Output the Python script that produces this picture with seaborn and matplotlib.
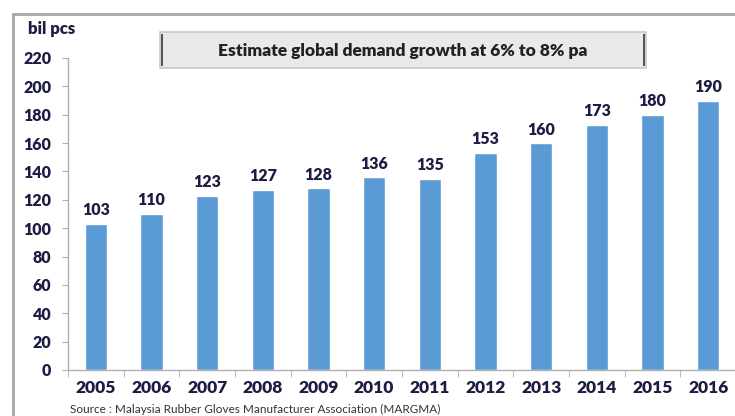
import pandas as pd
import seaborn as sns
import matplotlib.pyplot as plt
from matplotlib.patches import Rectangle

# data
years = ['2005', '2006', '2007', '2008', '2009', '2010',
         '2011', '2012', '2013', '2014', '2015', '2016']
demand = [103, 110, 123, 127, 128, 136, 135, 153, 160, 173, 180, 190]
y_ticks = list(range(0, 221, 20))

df = pd.DataFrame({'year': years, 'demand': demand})

sns.set_style('white')
plt.rcParams['font.family'] = ['Lato', 'DejaVu Sans']

navy = '#1c1c44'
fig = plt.figure(figsize=(7.35, 4.16), dpi=100)
ax = fig.add_axes([68 / 735, 1 - 370 / 416, 668 / 735, 312 / 416])

sns.barplot(data=df, x='year', y='demand', color='#5b9bd5', width=0.4,
            saturation=1, ax=ax)
ax.bar_label(ax.containers[0], fmt='%d', padding=4, fontsize=11.5,
             fontweight='heavy', color=navy)

ax.set_ylim(0, 220)
ax.set_xlim(-0.5, len(years) - 0.5)
ax.set_yticks(y_ticks)
ax.set_xlabel('')
ax.set_ylabel('')
for side in ['top', 'right']:
    ax.spines[side].set_visible(False)
for side in ['left', 'bottom']:
    ax.spines[side].set_color('#b0b0b0')
    ax.spines[side].set_linewidth(1)
ax.tick_params(axis='y', length=4, color='#b0b0b0', left=True, pad=8,
               labelsize=11.5, labelcolor=navy)
ax.tick_params(axis='x', length=0, pad=7, labelsize=12.5, labelcolor=navy)
for lbl in ax.get_xticklabels() + ax.get_yticklabels():
    lbl.set_fontweight('heavy')
# small ticks between categories on the x axis
ax.set_xticks([i - 0.5 for i in range(len(years) + 1)], minor=True)
ax.tick_params(axis='x', which='minor', length=5, color='#b0b0b0', bottom=True)

# outer frame
fig.patches.append(Rectangle((13 / 735, -0.1), 1.2, 1 - 14 / 416 + 0.1,
                             transform=fig.transFigure, fill=False,
                             edgecolor='#a6a6a6', linewidth=2))

fig.text(28 / 735, 1 - 29 / 416, 'bil pcs', fontsize=12, fontweight='heavy',
         color=navy, va='center', ha='left')

# title box
fig.patches.append(Rectangle((160 / 735, 1 - 68 / 416), 486 / 735, 36 / 416,
                             transform=fig.transFigure, facecolor='#e9e9e9',
                             edgecolor='#c8c8c8', linewidth=1.2))
fig.patches.append(Rectangle((161 / 735, 1 - 66 / 416), 1.5 / 735, 32 / 416,
                             transform=fig.transFigure, facecolor='#555555',
                             edgecolor='none'))
fig.patches.append(Rectangle((643 / 735, 1 - 66 / 416), 1.5 / 735, 32 / 416,
                             transform=fig.transFigure, facecolor='#555555',
                             edgecolor='none'))
fig.text(403 / 735, 1 - 51 / 416, 'Estimate global demand growth at 6% to 8% pa',
         fontsize=12.5, fontweight='heavy', color='#222222', ha='center', va='center')

fig.text(70 / 735, 1 - 415 / 416,
         'Source : Malaysia Rubber Gloves Manufacturer Association (MARGMA)',
         fontsize=8.5, color='#333333', ha='left', va='bottom')

fig.savefig('out.png', dpi=100)
